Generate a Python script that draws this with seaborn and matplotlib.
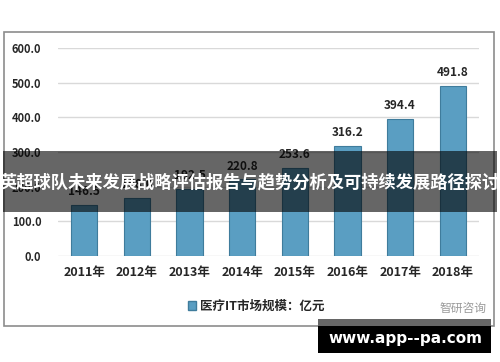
import matplotlib
matplotlib.use("Agg")
import matplotlib.pyplot as plt
from matplotlib.patches import Rectangle, Patch
import seaborn as sns
import pandas as pd

years = ["2011年", "2012年", "2013年", "2014年", "2015年", "2016年", "2017年", "2018年"]
values = [146.5, 168.0, 192.5, 220.8, 253.6, 316.2, 394.4, 491.8]
yticks = [0, 100, 200, 300, 400, 500, 600]
series_name = "医疗IT市场规模：亿元"
banner_text = "英超球队未来发展战略评估报告与趋势分析及可持续发展路径探讨"
watermark = "www.app--pa.com"
logo_text = "智研咨询"

sns.set_theme(style="white")
plt.rcParams["font.family"] = ["Noto Sans CJK SC", "DejaVu Sans"]

W, H = 500, 362
fig = plt.figure(figsize=(W / 100, H / 100), dpi=100)
fig.patch.set_facecolor("white")

def fx(px):
    return px / W

def fy(py):
    return 1 - py / H

# outer chart frame
fig.add_artist(Rectangle((fx(4), fy(326)), fx(494) - fx(4), fy(32) - fy(326),
                         transform=fig.transFigure, facecolor="white",
                         edgecolor="#8c8c8c", linewidth=1.2, zorder=-1))

ax = fig.add_axes([fx(58), fy(256), fx(479) - fx(58), fy(48) - fy(256)])
ax.set_facecolor("none")

df = pd.DataFrame({"year": years, "value": values})
bar_color = "#5a9ec2"
sns.barplot(data=df, x="year", y="value", color=bar_color, width=0.5,
            edgecolor="#3f7c9c", linewidth=0.8, saturation=1, ax=ax)

ax.set_ylim(0, 600)
ax.set_xlim(-0.5, len(years) - 0.5)
ax.set_yticks(yticks)
ax.set_yticklabels([f"{v:.1f}" for v in yticks], fontsize=8, fontweight="bold", color="#262626")
ax.set_xticks(range(len(years)))
ax.set_xticklabels(years, fontsize=9, fontweight="bold", color="#262626")
ax.tick_params(axis="y", length=0, pad=12)
ax.tick_params(axis="x", length=0, pad=7)
ax.set_xlabel("")
ax.set_ylabel("")
for s in ax.spines.values():
    s.set_visible(False)
ax.yaxis.grid(True, color="#d9d9d9", linewidth=1)
ax.set_axisbelow(True)

for c in ax.containers:
    ax.bar_label(c, fmt="%.1f", padding=5, fontsize=8.5, fontweight="bold", color="#262626")

# legend
ax.legend(handles=[Patch(facecolor=bar_color, edgecolor="#3f7c9c", label=series_name)],
          loc="center", bbox_to_anchor=(fx(256), fy(306)), bbox_transform=fig.transFigure,
          frameon=False, prop={"size": 9, "weight": "bold"}, handlelength=0.7,
          handleheight=0.7, handletextpad=0.3)

# logo text
fig.text(fx(463), fy(308), logo_text, ha="center", va="center", fontsize=8.5,
         color="#9a9a9a", zorder=5)

# banner overlay
fig.add_artist(Rectangle((fx(3), fy(212)), fx(497) - fx(3), fy(151) - fy(212),
                         transform=fig.transFigure, facecolor="black", alpha=0.6,
                         edgecolor="none", zorder=10))
fig.text(fx(250), fy(182), banner_text, ha="center", va="center", fontsize=12.4,
         fontweight="bold", color="white", zorder=11)

# watermark
fig.add_artist(Rectangle((fx(318), fy(326)), fx(491) - fx(318), fy(319) - fy(326),
                         transform=fig.transFigure, facecolor="#666666",
                         edgecolor="none", zorder=10))
fig.add_artist(Rectangle((fx(318), fy(353)), fx(491) - fx(318), fy(326) - fy(353),
                         transform=fig.transFigure, facecolor="black",
                         edgecolor="none", zorder=10))
fig.text(fx(405), fy(339), watermark, ha="center", va="center", fontsize=11,
         fontweight="bold", color="white", family=["DejaVu Sans"], zorder=11)

fig.savefig("out.png", dpi=100)
